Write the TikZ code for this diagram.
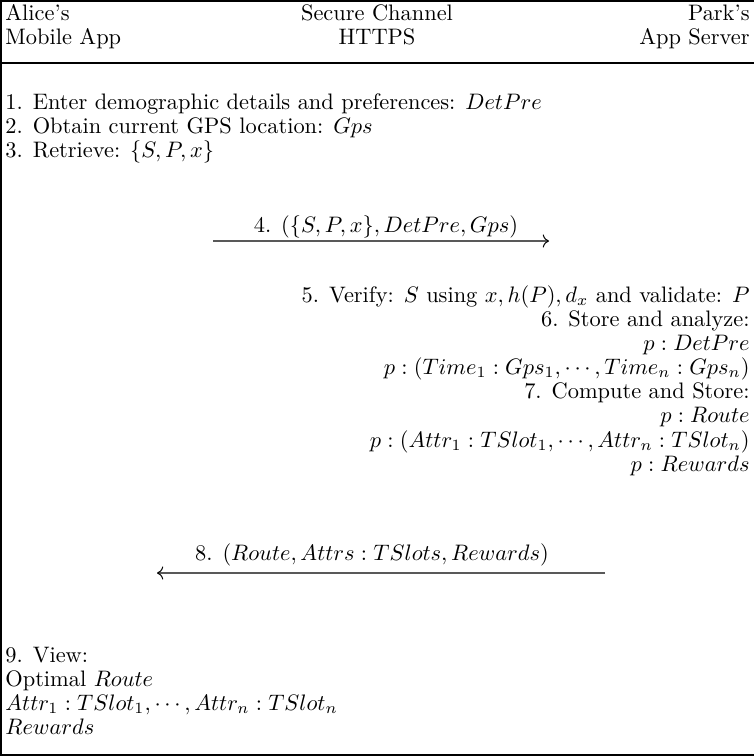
\documentclass[tikz,border=0pt]{standalone}
\usepackage{graphicx}
\usetikzlibrary{arrows.meta}
\newcommand\sx[1]{\scalebox{1.12}{#1}}
\begin{document}
\begin{tikzpicture}[x=0.5pt,y=-0.5pt,
  lt/.style={anchor=base west,inner sep=0pt},
  rt/.style={anchor=base east,inner sep=0pt},
  ct/.style={anchor=base,inner sep=0pt},
  tabrule/.style={line width=1pt},
  msg/.style={black!65,line width=0.7pt,-{Computer Modern Rightarrow[black,line width=0.5pt]}}]
\useasboundingbox (0,0) rectangle (754,756);
% frame
\draw[tabrule] (754,1) -- (1,1) -- (1,755) -- (754,755);
\draw[tabrule] (1,62.5) -- (754,62.5);
% header
\node[lt] (h1) at (5,20) {\sx{Alice's}};
\node[lt] (h2) at (5,44) {\sx{Mobile App}};
\node[ct] (h3) at (377,20) {\sx{Secure Channel}};
\node[ct] (h4) at (377,44) {\sx{HTTPS}};
\node[rt] (h5) at (750,20) {\sx{Park's}};
\node[rt] (h6) at (750,44) {\sx{App Server}};
% client steps
\node[lt] (s1) at (5,109) {\sx{1. Enter demographic details and preferences: $DetPre$}};
\node[lt] (s2) at (5,133) {\sx{2. Obtain current GPS location: $Gps$}};
\node[lt] (s3) at (5,157) {\sx{3. Retrieve: $\{S,P,x\}$}};
% message 4
\coordinate (a4s) at (213,241);
\coordinate (a4e) at (549,241);
\draw[msg] (a4s) -- (a4e);
\node[ct] (m4) at (386,232) {\sx{4. $(\{S,P,x\},DetPre,Gps)$}};
% server steps
\node[rt] (s5) at (750,302) {\sx{5. Verify: $S$ using $x,h(P),d_x$ and validate: $P$}};
\node[rt] (s6) at (750,326) {\sx{6. Store and analyze:}};
\node[rt] (s6a) at (750,350) {\sx{$p:DetPre$}};
\node[rt] (s6b) at (750,374) {\sx{$p:(Time_1:Gps_1,\cdots,Time_n:Gps_n)$}};
\node[rt] (s7) at (750,398) {\sx{7. Compute and Store:}};
\node[rt] (s7a) at (750,422) {\sx{$p:Route$}};
\node[rt] (s7b) at (750,447) {\sx{$p:(Attr_1:TSlot_1,\cdots,Attr_n:TSlot_n)$}};
\node[rt] (s7c) at (750,471) {\sx{$p:Rewards$}};
% message 8
\coordinate (a8s) at (605,573);
\coordinate (a8e) at (157,573);
\draw[msg] (a8s) -- (a8e);
\node[ct] (m8) at (372,560) {\sx{8. $(Route,Attrs:TSlots,Rewards)$}};
% client view
\node[lt] (s9) at (5,662) {\sx{9. View:}};
\node[lt] (s9a) at (5,686) {\sx{Optimal $Route$}};
\node[lt] (s9b) at (5,710) {\sx{$Attr_1:TSlot_1,\cdots,Attr_n:TSlot_n$}};
\node[lt] (s9c) at (5,734) {\sx{$Rewards$}};
\end{tikzpicture}
\end{document}
